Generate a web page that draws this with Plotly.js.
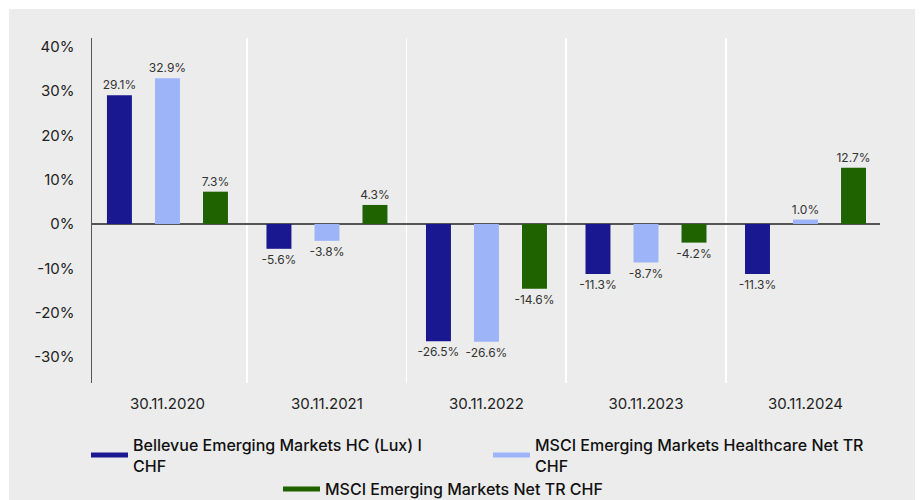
<!DOCTYPE html>
<html>
<head>
<meta charset="utf-8">
<script src="https://cdn.plot.ly/plotly-3.0.1.min.js"></script>
<style>
  html, body { margin: 0; padding: 0; background: #ffffff; width: 920px; height: 500px; overflow: hidden; }
  #chart { position: absolute; left: 9px; top: 9px; width: 906px; height: 491px; }
</style>
</head>
<body>
<div id="chart"></div>
<script>
const categories = ['30.11.2020', '30.11.2021', '30.11.2022', '30.11.2023', '30.11.2024'];
const seriesNames = [
  'Bellevue Emerging Markets HC (Lux) I<br>CHF',
  'MSCI Emerging Markets Healthcare Net TR<br>CHF',
  'MSCI Emerging Markets Net TR CHF'
];
const bellevue = [29.1, -5.6, -26.5, -11.3, -11.3];
const msciHealthcare = [32.9, -3.8, -26.6, -8.7, 1.0];
const msciEM = [7.3, 4.3, -14.6, -4.2, 12.7];
const colors = ['#1a1890', '#9db5f8', '#1f6200'];
const yTicks = [-30, -20, -10, 0, 10, 20, 30, 40];
const yTickText = yTicks.map(v => v + '%');

const FONT = 'Inter, "Open Sans", sans-serif';
const values = [bellevue, msciHealthcare, msciEM];
const legendIds = ['legend', 'legend2', 'legend3'];

const traces = [];
values.forEach((vals, i) => {
  traces.push({
    type: 'bar',
    x: categories,
    y: vals,
    name: seriesNames[i],
    marker: { color: colors[i] },
    text: vals.map(v => v.toFixed(1) + '%'),
    textposition: 'outside',
    constraintext: 'none',
    cliponaxis: false,
    textfont: { family: FONT, size: 12, color: '#333333' },
    showlegend: false,
    hoverinfo: 'none'
  });
});
// legend entries drawn as line keys
values.forEach((vals, i) => {
  traces.push({
    type: 'scatter',
    mode: 'lines',
    x: [null],
    y: [null],
    name: seriesNames[i],
    line: { color: colors[i], width: 5 },
    legend: legendIds[i],
    hoverinfo: 'none'
  });
});

const legendFont = { family: FONT, size: 16, color: '#111111', weight: 500 };
function mkLegend(x, y) {
  return {
    orientation: 'h',
    xref: 'container',
    yref: 'container',
    x: x,
    xanchor: 'left',
    y: y,
    yanchor: 'top',
    itemwidth: 37,
    bgcolor: 'rgba(0,0,0,0)',
    font: legendFont,
    itemclick: false,
    itemdoubleclick: false
  };
}

const layout = {
  width: 906,
  height: 491,
  paper_bgcolor: '#ececec',
  plot_bgcolor: '#ececec',
  margin: { l: 83, r: 35, t: 29, b: 117, autoexpand: false },
  barmode: 'group',
  bargap: 0.097,
  bargroupgap: 0.48,
  font: { family: FONT, color: '#222222' },
  xaxis: {
    type: 'category',
    range: [-0.473, 4.467],
    showgrid: true,
    gridcolor: '#ffffff',
    gridwidth: 1.5,
    tickson: 'boundaries',
    ticks: '',
    showline: false,
    zeroline: false,
    tickfont: { family: FONT, size: 15, color: '#222222' },
    ticklabelstandoff: 10
  },
  yaxis: {
    range: [-35.9, 42.0],
    tickmode: 'array',
    tickvals: yTicks,
    ticktext: yTickText,
    showgrid: false,
    zeroline: true,
    zerolinecolor: '#555555',
    zerolinewidth: 1.5,
    showline: true,
    linecolor: '#555555',
    linewidth: 1.5,
    ticks: '',
    ticklabelstandoff: 13,
    tickfont: { family: FONT, size: 15, color: '#222222' }
  },
  legend: mkLegend(0.085, 0.147),
  legend2: mkLegend(0.5287, 0.147),
  legend3: mkLegend(0.2969, 0.057),
  showlegend: true
};

Plotly.newPlot('chart', traces, layout, { displayModeBar: false, staticPlot: true });
</script>
</body>
</html>
